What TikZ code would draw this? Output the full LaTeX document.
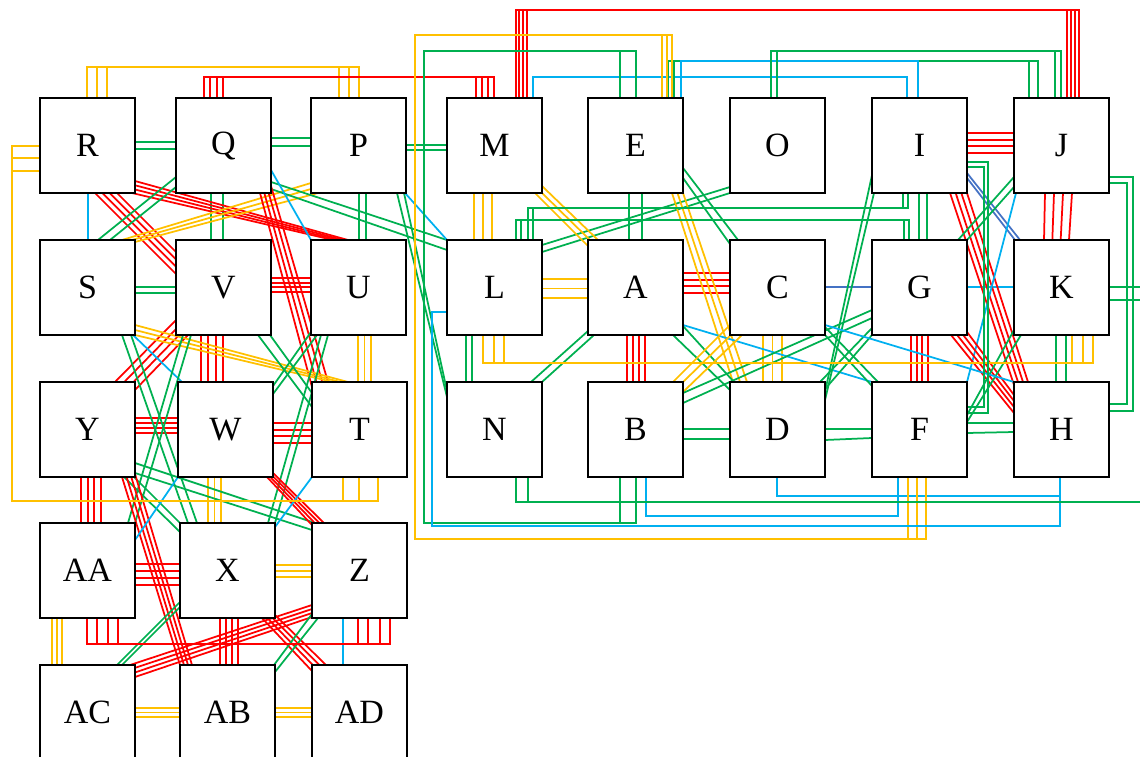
\documentclass[tikz,border=0pt]{standalone}
\usepackage{fontspec}
\setmainfont{Liberation Serif}
\usetikzlibrary{calc,backgrounds}
\definecolor{cred}{RGB}{255,0,0}
\definecolor{cyel}{RGB}{255,192,0}
\definecolor{cgrn}{RGB}{0,176,80}
\definecolor{cblu}{RGB}{0,176,240}
\definecolor{cdbl}{RGB}{68,114,196}

% k parallel strands between two nodes; end points are offsets from each node's north-west corner
\newcommand\edgefan[8]{%
  \path ($(#3.north west)+(#4)$) coordinate (fa1)
        ($(#3.north west)+(#5)$) coordinate (fa2)
        ($(#6.north west)+(#7)$) coordinate (fb1)
        ($(#6.north west)+(#8)$) coordinate (fb2);
  \foreach \fk in {1,...,#2}{%
    \pgfmathsetmacro\fanT{(\fk-1)/max(#2-1,1)}%
    \draw[#1] ($(fa1)!\fanT!(fa2)$) -- ($(fb1)!\fanT!(fb2)$);
  }}

% one strand leaving a node vertically, running along a horizontal level, entering another node vertically
\newcommand\uroute[6]{%
  \path ($(#2.north west)+(#3)$) coordinate (ua)
        ($(#4.north west)+(#5)$) coordinate (ub)
        (0,#6) coordinate (ul);
  \draw[#1] (ua) -- (ua |- ul) -- (ub |- ul) -- (ub);}

\begin{document}
\begin{tikzpicture}[x=1pt,y=-1pt,
  box/.style={draw=black, line width=1.9pt, fill=white, minimum width=95pt,
    minimum height=95pt, inner sep=0pt, outer sep=0pt,
    font=\fontsize{34}{40}\selectfont},
  rd/.style={draw=cred, line width=1.75pt},
  yl/.style={draw=cyel, line width=1.75pt},
  gr/.style={draw=cgrn, line width=1.75pt},
  bl/.style={draw=cblu, line width=1.75pt},
  db/.style={draw=cdbl, line width=1.75pt}]
\useasboundingbox (0,0) rectangle (1140,757);

% ---- boxes ----
\node[box] (R) at (87.5,145.5) {R};
\node[box] (Q) at (223.5,145.5) {Q};
\node[box] (P) at (358.5,145.5) {P};
\node[box] (M) at (494.5,145.5) {M};
\node[box] (E) at (635.5,145.5) {E};
\node[box] (O) at (777.5,145.5) {O};
\node[box] (I) at (919.5,145.5) {I};
\node[box] (J) at (1061.5,145.5) {J};
\node[box] (S) at (87.5,287.5) {S};
\node[box] (V) at (223.5,287.5) {V};
\node[box] (U) at (358.5,287.5) {U};
\node[box] (L) at (494.5,287.5) {L};
\node[box] (A) at (635.5,287.5) {A};
\node[box] (C) at (777.5,287.5) {C};
\node[box] (G) at (919.5,287.5) {G};
\node[box] (K) at (1061.5,287.5) {K};
\node[box] (Y) at (87.5,429.5) {Y};
\node[box] (W) at (225.5,429.5) {W};
\node[box] (T) at (359.5,429.5) {T};
\node[box] (N) at (494.5,429.5) {N};
\node[box] (B) at (635.5,429.5) {B};
\node[box] (D) at (777.5,429.5) {D};
\node[box] (F) at (919.5,429.5) {F};
\node[box] (H) at (1061.5,429.5) {H};
\node[box] (AA) at (87.5,570.5) {AA};
\node[box] (X) at (227.5,570.5) {X};
\node[box] (Z) at (359.5,570.5) {Z};
\node[box] (AC) at (87.5,712.5) {AC};
\node[box] (AB) at (227.5,712.5) {AB};
\node[box] (AD) at (359.5,712.5) {AD};

\begin{scope}[on background layer]
% ---- straight links between neighbours ----
\edgefan{gr}{2}{R}{95,44}{95,51}{Q}{0,44}{0,51}
\edgefan{gr}{2}{Q}{95,40}{95,48}{P}{0,40}{0,48}
\edgefan{gr}{2}{P}{95,47}{95,52}{M}{0,47}{0,52}
\edgefan{rd}{4}{I}{95,35}{95,55}{J}{0,35}{0,55}
\edgefan{gr}{2}{S}{95,47}{95,53}{V}{0,47}{0,53}
\edgefan{rd}{4}{V}{95,38}{95,52}{U}{0,38}{0,52}
\edgefan{yl}{3}{L}{95,39}{95,58}{A}{0,39}{0,58}
\edgefan{rd}{4}{A}{95,33}{95,53}{C}{0,33}{0,53}
\edgefan{db}{1}{C}{95,47}{95,47}{G}{0,47}{0,47}
\edgefan{bl}{1}{G}{95,47}{95,47}{K}{0,47}{0,47}
\edgefan{rd}{4}{Y}{95,36}{95,51}{W}{0,36}{0,51}
\edgefan{rd}{4}{W}{95,41}{95,61}{T}{0,41}{0,61}
\edgefan{gr}{2}{B}{95,47}{95,57}{D}{0,47}{0,57}
\edgefan{gr}{2}{D}{95,47}{95,58}{F}{0,47}{0,56}
\edgefan{gr}{2}{F}{95,41}{95,51}{H}{0,41}{0,50}
\edgefan{rd}{4}{AA}{95,41}{95,62}{X}{0,41}{0,62}
\edgefan{yl}{3}{X}{95,42}{95,54}{Z}{0,42}{0,54}
\edgefan{yl}{3}{AC}{95,43}{95,52}{AB}{0,43}{0,52}
\edgefan{yl}{3}{AB}{95,43}{95,52}{AD}{0,43}{0,52}

\edgefan{bl}{1}{R}{48,95}{48,95}{S}{48,0}{48,0}
\edgefan{gr}{2}{Q}{35,95}{47,95}{V}{35,0}{47,0}
\edgefan{gr}{2}{P}{48,95}{55,95}{U}{48,0}{55,0}
\edgefan{yl}{3}{M}{27,95}{45,95}{L}{27,0}{45,0}
\edgefan{gr}{2}{E}{41,95}{54,95}{A}{41,0}{54,0}
\edgefan{gr}{2}{I}{47,95}{55,95}{G}{47,0}{55,0}
\edgefan{rd}{4}{J}{31,95}{58,95}{K}{30,0}{55,0}
\edgefan{rd}{4}{V}{25,95}{47,95}{W}{23,0}{45,0}
\edgefan{yl}{3}{U}{47,95}{60,95}{T}{46,0}{59,0}
\edgefan{gr}{2}{L}{19,95}{25,95}{N}{19,0}{25,0}
\edgefan{rd}{4}{A}{39,95}{57,95}{B}{39,0}{57,0}
\edgefan{yl}{3}{C}{33,95}{52,95}{D}{33,0}{52,0}
\edgefan{rd}{4}{G}{39,95}{56,95}{F}{39,0}{56,0}
\edgefan{gr}{2}{K}{42,95}{52,95}{H}{42,0}{52,0}
\edgefan{rd}{4}{Y}{41,95}{61,95}{AA}{41,0}{61,0}
\edgefan{yl}{3}{W}{30,95}{43,95}{X}{28,0}{41,0}
\edgefan{yl}{3}{AA}{12,95}{22,95}{AC}{12,0}{22,0}
\edgefan{rd}{4}{X}{40,95}{58,95}{AB}{40,0}{58,0}
\edgefan{bl}{1}{Z}{31,95}{31,95}{AD}{31,0}{31,0}

% ---- diagonal links ----
\edgefan{rd}{4}{R}{55,95}{77,95}{V}{0,34}{0,12}
\edgefan{rd}{4}{R}{95,83}{92,95}{U}{37,0}{22,0}
\edgefan{gr}{2}{Q}{0,79}{0,89}{S}{58,0}{70,0}
\edgefan{yl}{3}{S}{82,0}{95,2}{P}{0,85}{7,95}
\edgefan{gr}{2}{Q}{95,84}{95,91}{L}{0,0}{0,10}
\edgefan{bl}{1}{Q}{95,72}{95,72}{U}{0,0}{0,0}
\edgefan{rd}{4}{Q}{84,95}{95,88}{T}{0,5}{16,0}
\edgefan{gr}{2}{P}{86,95}{93,95}{N}{0,15}{0,9}
\edgefan{bl}{1}{P}{94,95}{94,95}{L}{0,0}{0,0}
\edgefan{gr}{2}{O}{0,89}{0,95}{L}{95,5}{95,12}
\edgefan{yl}{3}{M}{88,95}{95,88}{A}{0,6}{10,0}
\edgefan{yl}{3}{E}{84,95}{95,95}{D}{3,0}{17,0}
\edgefan{gr}{2}{E}{95,70}{95,80}{C}{8,0}{0,4}
\edgefan{gr}{2}{A}{6,95}{0,91}{N}{95,0}{84,0}
\edgefan{gr}{2}{A}{85,95}{95,86}{D}{0,8}{4,0}
\edgefan{bl}{1}{A}{95,85}{95,85}{F}{0,0}{0,0}
\edgefan{yl}{3}{B}{85,0}{95,10}{C}{0,85}{12,95}
\edgefan{gr}{2}{B}{95,11}{95,21}{G}{0,70}{0,78}
\edgefan{gr}{2}{C}{95,87}{95,95}{F}{6,0}{0,4}
\edgefan{gr}{2}{G}{0,88}{0,95}{D}{90,0}{95,7}
\edgefan{gr}{2}{I}{0,77}{2,95}{D}{95,10}{95,18}
\edgefan{rd}{4}{I}{78,95}{95,95}{H}{0,3}{14,0}
\edgefan{db}{2}{I}{95,75}{95,80}{K}{6,0}{1,0}
\edgefan{gr}{2}{J}{0,79}{0,89}{G}{86,0}{95,0}
\edgefan{bl}{1}{J}{2,95}{2,95}{F}{95,0}{95,0}
\edgefan{rd}{4}{G}{79,95}{95,92}{H}{0,31}{0,13}
\edgefan{gr}{2}{K}{0,90}{7,95}{F}{95,33}{95,40}
\edgefan{bl}{1}{C}{95,85}{95,85}{H}{0,0}{0,0}
\edgefan{rd}{4}{V}{0,80}{12,95}{Y}{75,0}{95,8}
\edgefan{yl}{3}{S}{95,85}{95,95}{T}{36,0}{21,0}
\edgefan{bl}{1}{S}{93,95}{93,95}{W}{4,0}{4,0}
\edgefan{gr}{2}{S}{82,95}{91,95}{X}{8,0}{17,0}
\edgefan{gr}{2}{V}{7,95}{15,95}{AA}{88,0}{95,0}
\edgefan{gr}{2}{Y}{84,95}{94,95}{X}{0,9}{0,0}
\edgefan{gr}{2}{Y}{95,81}{95,91}{Z}{3,0}{0,7}
\edgefan{gr}{2}{V}{82,95}{94,95}{T}{0,25}{0,11}
\edgefan{gr}{2}{U}{0,92}{6,95}{W}{95,4}{95,12}
\edgefan{gr}{2}{U}{10,95}{17,95}{X}{88,0}{95,0}
\edgefan{rd}{4}{Y}{82,95}{95,92}{AB}{0,0}{12,0}
\edgefan{bl}{1}{W}{0,95}{0,95}{AA}{95,17}{95,17}
\edgefan{rd}{4}{W}{89,95}{95,91}{Z}{0,2}{12,0}
\edgefan{bl}{1}{T}{0,95}{0,95}{X}{95,4}{95,4}
\edgefan{gr}{2}{X}{0,79}{0,84}{AC}{77,0}{82,0}
\edgefan{rd}{4}{Z}{0,82}{0,94}{AC}{90,0}{95,12}
\edgefan{rd}{4}{X}{82,95}{95,92}{AD}{0,6}{14,0}
\edgefan{gr}{2}{Z}{0,91}{6,95}{AB}{94,0}{95,7}

% ---- routed links over the top and along the bottom ----
\foreach \ea/\eb in {47/28,57/38,67/48}{\uroute{yl}{R}{\ea,0}{P}{\eb,0}{67}}
\foreach \ea/\eb in {28/29,34/35,41/41,47/47}{\uroute{rd}{Q}{\ea,0}{M}{\eb,0}{77}}
\foreach \ea/\eb in {69/53,72/57,76/61,80/65}{\uroute{rd}{M}{\ea,0}{J}{\eb,0}{10}}
\uroute{bl}{M}{86,0}{I}{35,0}{77}
\foreach \ea/\eb in {80/15,86/24}{\uroute{gr}{E}{\ea,0}{J}{\eb,0}{61}}
\uroute{bl}{E}{93,0}{I}{46,0}{61}
\foreach \ea/\eb in {41/41,47/47}{\uroute{gr}{O}{\ea,0}{J}{\eb,0}{51}}
\foreach \ea/\eb in {36/58,47/69,57/79}{\uroute{yl}{L}{\ea,95}{K}{\eb,95}{363}}
\foreach \ea/\eb in {69/32,74/37}{\uroute{gr}{L}{\ea,0}{G}{\eb,0}{220}}
\foreach \ea/\eb in {31/81,36/86}{\uroute{gr}{I}{\ea,95}{L}{\eb,0}{208}}
\foreach \ea/\eb in {47/46,57/56,68/68,78/78}{\uroute{rd}{AA}{\ea,95}{Z}{\eb,95}{644}}
\uroute{bl}{B}{58,95}{F}{26,95}{516}
\uroute{bl}{D}{47,95}{H}{46,95}{496}

\path (0,35) coordinate (y35) (0,51) coordinate (y51) (0,501) coordinate (y501)
      (0,502) coordinate (y502) (0,523) coordinate (y523) (0,526) coordinate (y526)
      (0,539) coordinate (y539) (12,0) coordinate (x12) (415,0) coordinate (x415)
      (424,0) coordinate (x424) (432,0) coordinate (x432) (1160,0) coordinate (x1160);

% E to B, round the left of the right-hand block
\foreach \ea in {32,48}{
  \path ($(E.north west)+(\ea,0)$) coordinate (ua) ($(B.north west)+(\ea,95)$) coordinate (ub);
  \draw[gr] (ua) -- (ua |- y51) -- (x424 |- y51) -- (x424 |- y523) -- (ub |- y523) -- (ub);}
% E to F, outer loop
\foreach \ea/\eb in {74/36,79/45,84/54}{
  \path ($(E.north west)+(\ea,0)$) coordinate (ua) ($(F.north west)+(\eb,95)$) coordinate (ub);
  \draw[yl] (ua) -- (ua |- y35) -- (x415 |- y35) -- (x415 |- y539) -- (ub |- y539) -- (ub);}
% L to H
\path ($(L.north west)+(0,72)$) coordinate (ua) ($(H.north west)+(46,95)$) coordinate (ub);
\draw[bl] (ua) -- (x432 |- ua) -- (x432 |- y526) -- (ub |- y526) -- (ub);
% R to T, round the far left
\foreach \ea/\eb in {48/31,60/47,73/66}{
  \path ($(R.north west)+(0,\ea)$) coordinate (ua) ($(T.north west)+(\eb,95)$) coordinate (ub);
  \draw[yl] (ua) -- (x12 |- ua) -- (x12 |- y501) -- (ub |- y501) -- (ub);}
% N to K, round the far right
\foreach \ea/\eb in {69/47,81/60}{
  \path ($(N.north west)+(\ea,95)$) coordinate (ua) ($(K.north west)+(95,\eb)$) coordinate (ub);
  \draw[gr] (ua) -- (ua |- y502) -- (x1160 |- y502) -- (x1160 |- ub) -- (ub);}
% I to F and J to H, down the right-hand sides
\foreach \ea/\eb/\ex in {64/31/988,69/25/984}{
  \path ($(I.north west)+(95,\ea)$) coordinate (ua) ($(F.north west)+(95,\eb)$) coordinate (ub)
        (\ex,0) coordinate (xr);
  \draw[gr] (ua) -- (xr |- ua) -- (xr |- ub) -- (ub);}
\foreach \ea/\eb/\ex in {79/29/1133,85/22/1127}{
  \path ($(J.north west)+(95,\ea)$) coordinate (ua) ($(H.north west)+(95,\eb)$) coordinate (ub)
        (\ex,0) coordinate (xr);
  \draw[gr] (ua) -- (xr |- ua) -- (xr |- ub) -- (ub);}
\end{scope}
\end{tikzpicture}
\end{document}
